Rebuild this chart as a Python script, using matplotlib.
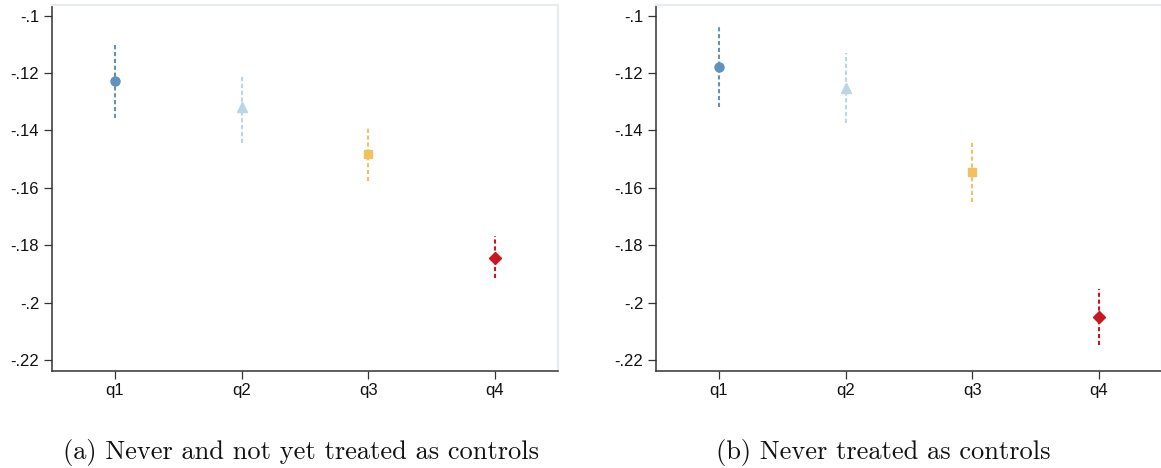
import matplotlib.pyplot as plt

quartiles = ["q1", "q2", "q3", "q4"]

# panel (a): never and not yet treated as controls
coef_a = [-0.1229, -0.1320, -0.1483, -0.1844]
lo_a = [-0.1358, -0.1445, -0.1576, -0.1915]
hi_a = [-0.1098, -0.1207, -0.1384, -0.1766]

# panel (b): never treated as controls
coef_b = [-0.1178, -0.1253, -0.1545, -0.2051]
lo_b = [-0.1317, -0.1375, -0.1651, -0.2147]
hi_b = [-0.1039, -0.1131, -0.1433, -0.1953]

yticks = [-0.1, -0.12, -0.14, -0.16, -0.18, -0.2, -0.22]
ytick_labels = ["-.1", "-.12", "-.14", "-.16", "-.18", "-.2", "-.22"]
captions = ["(a) Never and not yet treated as controls", "(b) Never treated as controls"]

colors = ["#5f93bb", "#b7d7e4", "#f0c061", "#c8171e"]
markers = ["o", "^", "s", "D"]
msizes = [6.5, 7, 6, 6]

plt.rcParams['font.family'] = ['Liberation Sans', 'DejaVu Sans']

fig = plt.figure(figsize=(11.61, 4.68), dpi=100)
ax_a = fig.add_axes([0.0445, 0.2073, 0.4361, 0.782])
ax_b = fig.add_axes([0.5648, 0.2073, 0.436, 0.782])

for ax, coef, lo, hi in [(ax_a, coef_a, lo_a, hi_a), (ax_b, coef_b, lo_b, hi_b)]:
    for i, q in enumerate(quartiles):
        x = i + 1
        ax.plot([x, x], [lo[i], hi[i]], color=colors[i], lw=1.5,
                linestyle=(0, (2.0, 1.3)), zorder=2)
        ax.plot(x, coef[i], marker=markers[i], color=colors[i],
                markersize=msizes[i], linestyle="none", zorder=3)
    ax.set_xlim(0.5, 4.5)
    ax.set_ylim(-0.2238, -0.0963)
    ax.set_xticks(range(1, 5))
    ax.set_xticklabels(quartiles)
    ax.set_yticks(yticks)
    ax.set_yticklabels(ytick_labels)
    ax.tick_params(axis="both", direction="out", length=6, width=0.9,
                   color="#333333", labelsize=12, labelcolor="#111111", pad=3)
    for side in ["left", "bottom"]:
        ax.spines[side].set_color("#333333")
        ax.spines[side].set_linewidth(1.1)
    for side in ["top", "right"]:
        ax.spines[side].set_color("#e6ebef")
        ax.spines[side].set_linewidth(1.6)

fig.text(301 / 1161, 1 - 452 / 468, captions[0], family="cmr10", fontsize=19,
         ha="center", va="center", color="#111111")
fig.text(883 / 1161, 1 - 452 / 468, captions[1], family="cmr10", fontsize=19,
         ha="center", va="center", color="#111111")

fig.savefig("out.png", dpi=100)
